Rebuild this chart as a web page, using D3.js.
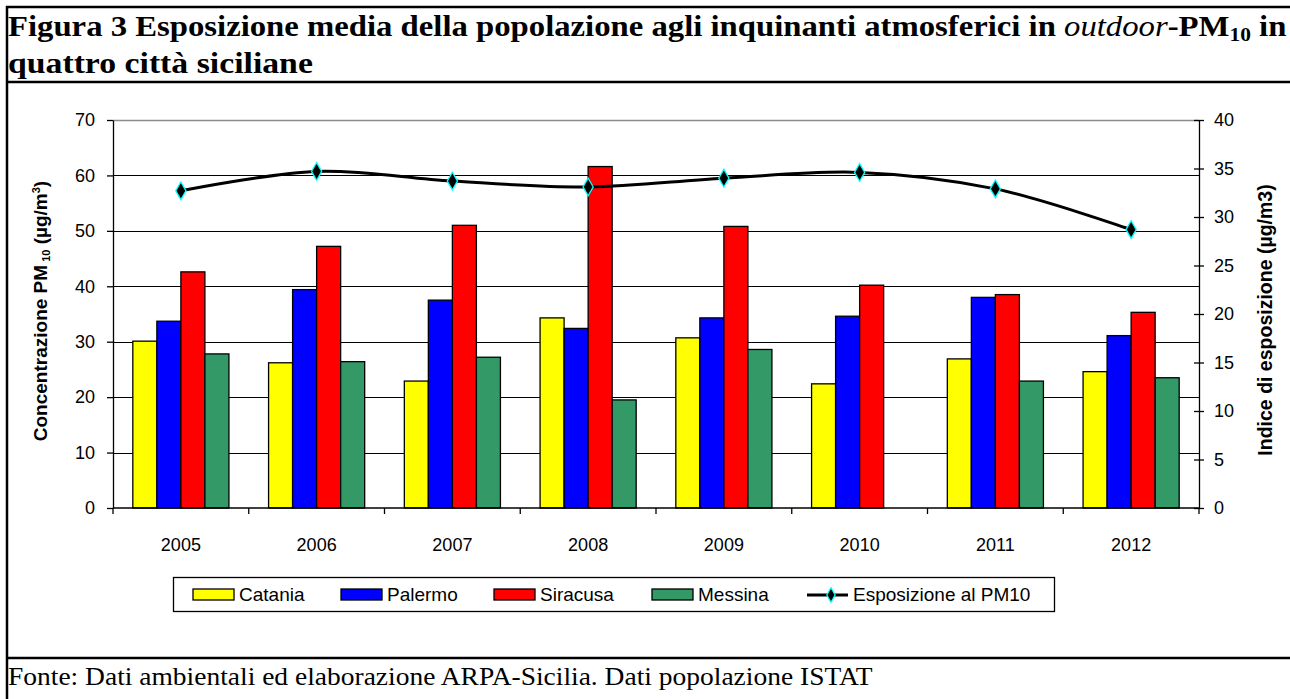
<!DOCTYPE html>
<html>
<head>
<meta charset="utf-8">
<script src="https://cdn.jsdelivr.net/npm/d3@7"></script>
<style>
  body { margin: 0; background: #fff; }
  text { fill: #000; }
</style>
</head>
<body>
<svg id="chart" width="1290" height="699"></svg>
<script>
// data
const years = ["2005", "2006", "2007", "2008", "2009", "2010", "2011", "2012"];
const cities = ["Catania", "Palermo", "Siracusa", "Messina"];
const catania  = [30.1, 26.2, 22.9, 34.3, 30.7, 22.4, 26.9, 24.6];
const palermo  = [33.7, 39.4, 37.5, 32.4, 34.3, 34.6, 38.0, 31.1];
const siracusa = [42.6, 47.2, 51.0, 61.6, 50.8, 40.2, 38.5, 35.3];
const messina  = [27.8, 26.4, 27.2, 19.5, 28.6, null, 22.9, 23.5];
const esposizione = [32.7, 34.7, 33.7, 33.1, 34.0, 34.6, 32.9, 28.7];
const cityColors = ["#ffff00", "#0000ff", "#ff0000", "#339966"];
const leftTicks = [0, 10, 20, 30, 40, 50, 60, 70];
const rightTicks = [0, 5, 10, 15, 20, 25, 30, 35, 40];

const series = [catania, palermo, siracusa, messina];
const svg = d3.select("#chart");
const sans = "'Liberation Sans', Arial, sans-serif";
const serif = "'Liberation Serif', 'Times New Roman', serif";

// frame of the figure box
[7, 82, 658].forEach(y => {
  svg.append("line").attr("x1", 6).attr("x2", 1290).attr("y1", y).attr("y2", y)
    .attr("stroke", "#000").attr("stroke-width", 2.5);
});
svg.append("line").attr("x1", 7).attr("x2", 7).attr("y1", 6).attr("y2", 699)
  .attr("stroke", "#000").attr("stroke-width", 2.5);

// title (stretched to the width it takes in the figure)
function fitText(sel, x0, width) {
  const w = sel.node().getComputedTextLength();
  sel.attr("transform", `translate(${x0},0) scale(${width / w},1)`).attr("x", 0);
}
const title = svg.append("text").attr("y", 36)
  .style("font-family", serif).style("font-size", "29px").style("font-weight", "bold");
title.append("tspan").text("Figura 3 Esposizione media della popolazione agli inquinanti atmosferici in ");
title.append("tspan").style("font-style", "italic").style("font-weight", "normal").text("outdoor");
title.append("tspan").text("-PM");
title.append("tspan").attr("dy", 5).style("font-size", "19px").text("10");
title.append("tspan").attr("dy", -5).text(" in");
fitText(title, 8, 1279);
const title2 = svg.append("text").attr("y", 73)
  .style("font-family", serif).style("font-size", "29px").style("font-weight", "bold")
  .text("quattro città siciliane");
fitText(title2, 8, 305);

// source
const source = svg.append("text").attr("y", 685)
  .style("font-family", serif).style("font-size", "25px")
  .text("Fonte: Dati ambientali ed elaborazione ARPA-Sicilia. Dati popolazione ISTAT");
fitText(source, 8, 865);

// scales
const plotL = 113, plotR = 1199, plotT = 120, plotB = 508;
const gap = 1.65;
const x = d3.scaleBand().domain(years).range([plotL, plotR])
  .paddingInner(gap / (4 + gap)).paddingOuter(gap / 2 / (4 + gap));
const x1 = d3.scaleBand().domain(cities).range([0, x.bandwidth()]);
const yL = d3.scaleLinear().domain([0, 70]).range([plotB, plotT]);
const yR = d3.scaleLinear().domain([0, 40]).range([plotB, plotT]);

// gridlines
svg.append("g").selectAll("line").data(leftTicks.filter(d => d > 0)).join("line")
  .attr("x1", plotL).attr("x2", plotR)
  .attr("y1", d => Math.round(yL(d)) + 0.5).attr("y2", d => Math.round(yL(d)) + 0.5)
  .attr("stroke", d => d === 70 ? "#8c8c8c" : "#000").attr("stroke-width", d => d === 70 ? 1.5 : 1.2);

// bars
cities.forEach((c, i) => {
  svg.append("g").selectAll("rect")
    .data(years.map((yr, j) => ({ yr, v: series[i][j] })).filter(d => d.v != null))
    .join("rect")
    .attr("x", d => x(d.yr) + x1(c))
    .attr("y", d => yL(d.v))
    .attr("width", x1.bandwidth())
    .attr("height", d => plotB - yL(d.v))
    .attr("fill", cityColors[i])
    .attr("stroke", "#000").attr("stroke-width", 1.3);
});

// left axis
const gL = svg.append("g").attr("transform", `translate(${plotL},0)`)
  .call(d3.axisLeft(yL).tickValues(leftTicks).tickSize(6).tickSizeOuter(0).tickPadding(12));
// right axis
const gR = svg.append("g").attr("transform", `translate(${plotR},0)`)
  .call(d3.axisRight(yR).tickValues(rightTicks).tickSize(5).tickSizeOuter(0).tickPadding(10));
gR.selectAll(".tick line").attr("x1", -5);
// x axis
const gX = svg.append("g").attr("transform", `translate(0,${plotB})`)
  .call(d3.axisBottom(x).tickSize(0).tickPadding(22));
gX.selectAll(".tick").attr("transform", d => `translate(${x(d) + x.bandwidth() / 2},0)`);
gX.select(".domain").attr("d", `M${plotL},0H${plotR}`);
gX.append("g").selectAll("line").data(d3.range(years.length + 1)).join("line")
  .attr("x1", i => plotL + i * x.step()).attr("x2", i => plotL + i * x.step())
  .attr("y1", 0).attr("y2", 6).attr("stroke", "#000");

[gL, gR, gX].forEach(g => {
  g.selectAll("text").style("font-family", sans).style("font-size", "18px").attr("fill", "#222");
  g.selectAll("line, path").attr("stroke", "#000").attr("stroke-width", 1.3);
});
gX.selectAll(".tick text").attr("y", 30);

// exposure line
const line = d3.line()
  .x((d, j) => x(years[j]) + x.bandwidth() / 2)
  .y(d => yR(d))
  .curve(d3.curveCatmullRom.alpha(0.5));
svg.append("path").datum(esposizione).attr("d", line)
  .attr("fill", "none").attr("stroke", "#000").attr("stroke-width", 3);
const diamond = d3.symbol(d3.symbolDiamond).size(90);
svg.append("g").selectAll("path").data(esposizione).join("path")
  .attr("d", diamond)
  .attr("transform", (d, j) => `translate(${x(years[j]) + x.bandwidth() / 2},${yR(d)})`)
  .attr("fill", "#000").attr("stroke", "#00ffff").attr("stroke-width", 1.3);

// axis titles
const ltitle = svg.append("text")
  .attr("transform", "translate(47,311) rotate(-90)")
  .attr("text-anchor", "middle")
  .style("font-family", sans)
  .style("font-size", "19px").style("font-weight", "bold");
ltitle.append("tspan").text("Concentrazione PM");
ltitle.append("tspan").attr("dy", 3).style("font-size", "11px").text(" 10");
ltitle.append("tspan").attr("dy", -3).text("  (µg/m");
ltitle.append("tspan").attr("dy", -7).style("font-size", "11px").text("3");
ltitle.append("tspan").attr("dy", 7).text(")");
svg.append("text")
  .attr("transform", "translate(1272,320) rotate(-90)")
  .attr("text-anchor", "middle")
  .style("font-family", sans)
  .style("font-size", "19.5px").style("font-weight", "bold")
  .text("Indice di esposizione (µg/m3)");

// legend
const legend = svg.append("g");
legend.append("rect").attr("x", 173.5).attr("y", 577.5).attr("width", 881).attr("height", 34)
  .attr("fill", "#fff").attr("stroke", "#000").attr("stroke-width", 1.3);
const legendX = [193, 341, 494, 652];
cities.forEach((c, i) => {
  legend.append("rect").attr("x", legendX[i]).attr("y", 589).attr("width", 41).attr("height", 11)
    .attr("fill", cityColors[i]).attr("stroke", "#000").attr("stroke-width", 1.3);
  legend.append("text").attr("x", legendX[i] + 46).attr("y", 601)
    .style("font-family", sans).style("font-size", "19px").attr("fill", "#222").text(c);
});
legend.append("line").attr("x1", 807).attr("x2", 848).attr("y1", 595).attr("y2", 595)
  .attr("stroke", "#000").attr("stroke-width", 3);
legend.append("path").attr("d", d3.symbol(d3.symbolDiamond).size(60)).attr("transform", "translate(831,595)")
  .attr("fill", "#000").attr("stroke", "#00ffff").attr("stroke-width", 1.3);
legend.append("text").attr("x", 853).attr("y", 601)
  .style("font-family", sans).style("font-size", "19px").attr("fill", "#222").text("Esposizione al PM10");
</script>
</body>
</html>
